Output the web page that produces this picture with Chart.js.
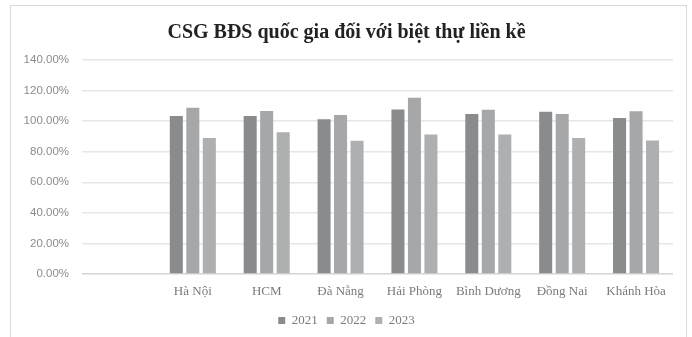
<!DOCTYPE html>
<html>
<head>
<meta charset="utf-8">
<script src="https://cdn.jsdelivr.net/npm/chart.js@4"></script>
<style>
  html, body { margin: 0; padding: 0; background: #fff; overflow: hidden; }
  #frame { position: absolute; left: 10px; top: 5px; width: 675px; height: 340px; border: 1px solid #d9d9d9; }
  #wrap { position: absolute; left: 0; top: 0; width: 692px; height: 337px; }
</style>
</head>
<body>
<div id="frame"></div>
<div id="wrap"><canvas id="chart" width="692" height="337"></canvas></div>
<script>
// first slot is empty in the original chart
const categories = ['', 'Hà Nội', 'HCM', 'Đà Nẵng', 'Hải Phòng', 'Bình Dương', 'Đồng Nai', 'Khánh Hòa'];
const years = ['2021', '2022', '2023'];
const values2021 = [null, 103.4, 103.4, 101.2, 107.6, 104.7, 106.1, 102.1];
const values2022 = [null, 108.7, 106.7, 104.1, 115.3, 107.4, 104.7, 106.5];
const values2023 = [null, 89.0, 92.7, 87.2, 91.2, 91.2, 89.0, 87.4];
const yTicks = [0, 20, 40, 60, 80, 100, 120, 140];

const colors = ['#8a8b8d', '#a5a7a9', '#aeafb1'];
const serif = "'Liberation Serif', 'DejaVu Serif', serif";

const config = {
  type: 'bar',
  data: {
    labels: categories,
    datasets: [values2021, values2022, values2023].map((vals, i) => ({
      label: years[i],
      data: vals,
      backgroundColor: colors[i],
      categoryPercentage: 0.67,
      barPercentage: 0.79,
    })),
  },
  options: {
    responsive: false,
    animation: false,
    layout: { padding: { left: 20, right: 19, top: 0, bottom: 0 } },
    scales: {
      x: {
        grid: { display: false, drawTicks: false },
        border: { display: false },
        ticks: { color: '#7a7a7a', font: { family: serif, size: 13 }, padding: 10, maxRotation: 0, autoSkip: false },
        afterFit: (scale) => { scale.height = 31; },
      },
      y: {
        min: 0,
        max: 140,
        afterBuildTicks: (scale) => { scale.ticks = yTicks.map((v) => ({ value: v })); },
        grid: { color: (c) => (c.tick && c.tick.value === 0 ? '#d4d4d4' : '#e6e6e6'), lineWidth: 1.5, drawTicks: false },
        border: { display: false },
        ticks: {
          color: '#8c8c8c',
          font: { family: "'Liberation Sans', Arial, sans-serif", size: 11.5 },
          padding: 13,
          callback: (v) => v.toFixed(2) + '%',
        },
        afterFit: (scale) => { scale.width = 62; },
      },
    },
    plugins: {
      title: {
        display: true,
        text: 'CSG BĐS quốc gia đối với biệt thự liền kề',
        color: '#222',
        font: { family: serif, size: 20, weight: 'bold' },
        padding: { top: 21, bottom: 15 },
      },
      legend: {
        position: 'bottom',
        labels: { boxWidth: 7, boxHeight: 7, color: '#7a7a7a', font: { family: serif, size: 13 }, padding: 9 },
      },
      tooltip: { enabled: false },
    },
  },
};

new Chart(document.getElementById('chart'), config);
</script>
</body>
</html>
